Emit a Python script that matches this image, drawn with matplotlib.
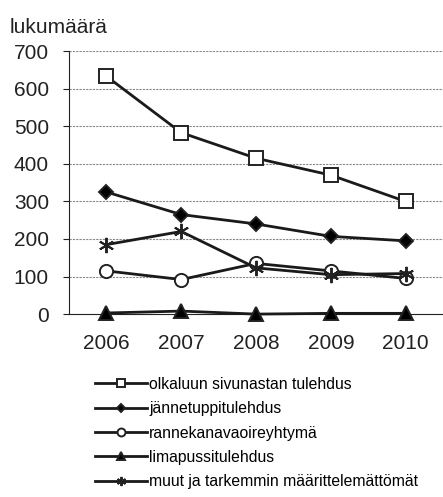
import matplotlib
matplotlib.use('Agg')
from matplotlib import pyplot as plt
import numpy as np

years = ['2006', '2007', '2008', '2009', '2010']

olkaluu = [633, 483, 415, 370, 300]
janne = [325, 265, 240, 207, 195]
ranne = [115, 92, 135, 115, 95]
lima = [3, 8, 0, 2, 2]
muut = [185, 220, 123, 105, 108]

labels = ['olkaluun sivunastan tulehdus', 'jännetuppitulehdus', 'rannekanavaoireyhtymä',
          'limapussitulehdus', 'muut ja tarkemmin määrittelemättömät']

plt.rcParams['font.family'] = ['Liberation Sans', 'DejaVu Sans']

fig = plt.figure(figsize = (4.43, 4.97), dpi = 100)
ax = fig.add_axes([0.156, 0.368, 0.844, 0.529])

x = np.arange(len(years))

# series styles: marker, facecolor, size
styles = [
  ('s', 'white', 10),
  ('D', 'black', 7.5),
  ('o', 'white', 9.5),
  ('^', 'black', 10),
  ((6, 2, 0), 'black', 11),
]

handles = []
for vals, lab, (m, fc, ms) in zip([olkaluu, janne, ranne, lima, muut], labels, styles):
  h, = ax.plot(x, vals, '-', color = '#1a1a1a', lw = 2, marker = m, markersize = ms,
               markerfacecolor = fc, markeredgecolor = '#222222', markeredgewidth = 1.4,
               label = lab, clip_on = False, zorder = 3)
  handles.append(h)

ax.set_xlim(-0.5, 4.5)
ax.set_ylim(0, 700)
ax.set_yticks(range(0, 701, 100))
ax.set_xticks(x, labels = years)
ax.tick_params(axis = 'x', length = 0, pad = 14, labelsize = 15, colors = '#222222')
ax.tick_params(axis = 'y', length = 4.5, width = 0.8, pad = 10, labelsize = 15, colors = '#222222')

for y in range(100, 701, 100):
  ax.axhline(y, color = '#888888', lw = 0.8, ls = (0, (2, 1)), zorder = 1)

for s in ['top', 'right']:
  ax.spines[s].set_visible(False)
ax.spines['left'].set_color('#222222')
ax.spines['left'].set_linewidth(0.8)
ax.spines['bottom'].set_color('#222222')

fig.text(0.022, 0.945, 'lukumäärä', fontsize = 15, color = '#222222', va = 'center')

leg = fig.legend(handles = handles, loc = 'upper left', bbox_to_anchor = (0.214, 0.242),
                 frameon = False, fontsize = 11.3, handlelength = 3.3, handletextpad = 0.15,
                 labelspacing = 0.6, markerscale = 0.6, borderaxespad = 0, borderpad = 0)

plt.savefig('out.png', dpi = 100)
